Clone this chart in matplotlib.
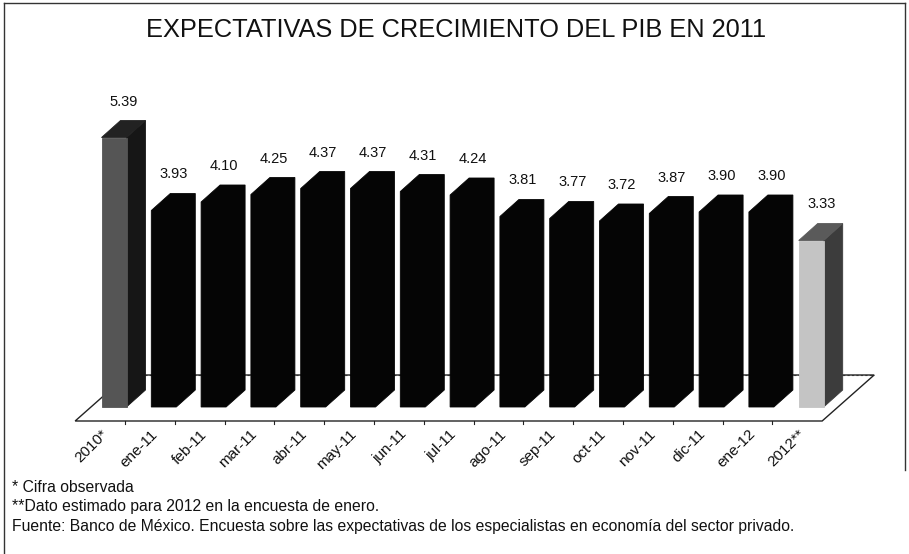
import matplotlib
matplotlib.use("Agg")
import matplotlib.pyplot as plt
from matplotlib.patches import Polygon

categories = ["2010*", "ene-11", "feb-11", "mar-11", "abr-11", "may-11", "jun-11",
              "jul-11", "ago-11", "sep-11", "oct-11", "nov-11", "dic-11", "ene-12", "2012**"]
values = [5.39, 3.93, 4.10, 4.25, 4.37, 4.37, 4.31, 4.24, 3.81, 3.77, 3.72, 3.87, 3.90, 3.90, 3.33]
labels = ["5.39", "3.93", "4.10", "4.25", "4.37", "4.37", "4.31", "4.24", "3.81", "3.77",
          "3.72", "3.87", "3.90", "3.90", "3.33"]

title = "EXPECTATIVAS DE CRECIMIENTO DEL PIB EN 2011"
notes = ["* Cifra observada",
         "**Dato estimado para 2012 en la encuesta de enero.",
         "Fuente: Banco de México. Encuesta sobre las expectativas de los especialistas en economía del sector privado."]

plt.rcParams['font.family'] = ['Liberation Sans', 'DejaVu Sans']

W, H = 909, 554
fig = plt.figure(figsize=(W / 100, H / 100), dpi=100)
fig.patch.set_facecolor("white")

# pixel mapping: px = 114 + 49.8*x ; py = 407 - 50*v
PX0, PXS = 114.0, 49.8
PY0, PYS = 407.0, 50.0
ax_l, ax_r, ax_t, ax_b = 40, 900, 85, 440
ax = fig.add_axes([ax_l / W, 1 - ax_b / H, (ax_r - ax_l) / W, (ax_b - ax_t) / H])
ax.set_xlim((ax_l - PX0) / PXS, (ax_r - PX0) / PXS)
ax.set_ylim((PY0 - ax_b) / PYS, (PY0 - ax_t) / PYS)
ax.axis("off")

# depth offsets (data units)
bdx, bdy = 19 / PXS, 17 / PYS     # bar depth
fdx, fdy = 52 / PXS, 46 / PYS     # floor depth
hw = 12.5 / PXS                    # half front width

n = len(values)
# floor
f_front = -14 / PYS
fx0 = -0.5 - 0.28
fx1 = n - 1 + 0.5 - 0.28
floor = Polygon([(fx0, f_front), (fx1, f_front), (fx1 + fdx, f_front + fdy), (fx0 + fdx, f_front + fdy)],
                closed=True, facecolor="white", edgecolor="#222222", lw=1.0, zorder=1)
ax.add_patch(floor)
ax.plot([fx0 + fdx, fx1 + fdx], [f_front + fdy] * 2, color="#333333", lw=0.8, ls=(0, (2, 2)), zorder=1.5)
for k in range(n + 1):
    xt = k - 0.5 - 0.28
    if fx0 < xt < fx1:
        ax.plot([xt, xt], [f_front, f_front - 3 / PYS], color="#222222", lw=0.8, zorder=2)

styles = {0: ("#555555", "#161616", "#222222"),
          n - 1: ("#c4c4c4", "#3c3c3c", "#5a5a5a")}

for i, v in enumerate(values):
    front, side, top = styles.get(i, ("#050505", "#050505", "#050505"))
    x0, x1 = i - hw, i + hw
    z = 3 + i * 0.01
    if i not in styles:
        # solid black bar: draw the full silhouette in one piece
        ax.add_patch(Polygon([(x0, 0), (x1, 0), (x1 + bdx, bdy), (x1 + bdx, v + bdy),
                              (x0 + bdx, v + bdy), (x0, v)],
                             closed=True, facecolor=front, edgecolor=front, lw=0.6, zorder=z))
    else:
        ax.add_patch(Polygon([(x1, 0), (x1 + bdx, bdy), (x1 + bdx, v + bdy), (x1, v)],
                             closed=True, facecolor=side, edgecolor=side, lw=0.6, zorder=z))
        ax.add_patch(Polygon([(x0, v), (x1, v), (x1 + bdx, v + bdy), (x0 + bdx, v + bdy)],
                             closed=True, facecolor=top, edgecolor=top, lw=0.6, zorder=z))
        ax.add_patch(Polygon([(x0, 0), (x1, 0), (x1, v), (x0, v)],
                             closed=True, facecolor=front, edgecolor=front, lw=0.6, zorder=z + 0.005))
    ax.text(i + 0.2, v + bdy + 19 / PYS, labels[i], ha="center", va="center", fontsize=10.5, color="#111111",
            zorder=5)
    ax.text(i - 0.27, f_front - 6 / PYS, categories[i], rotation=45, rotation_mode="anchor",
            ha="right", va="top", fontsize=11, color="#111111")

fig.text(456 / W, 1 - 30 / H, title, ha="center", va="center", fontsize=18.3, color="#111111")

ny = [487, 507, 526]
for t, y in zip(notes, ny):
    fig.text(12 / W, 1 - y / H, t, ha="left", va="center", fontsize=11.3, color="#111111")

# frame
fig.add_artist(plt.Line2D([4 / W, 4 / W], [0, 1 - 3 / H], transform=fig.transFigure, color="#333333", lw=1))
fig.add_artist(plt.Line2D([4 / W, 905 / W], [1 - 3 / H, 1 - 3 / H], transform=fig.transFigure, color="#333333", lw=1))
fig.add_artist(plt.Line2D([905 / W, 905 / W], [1 - 3 / H, 1 - 470 / H], transform=fig.transFigure, color="#333333", lw=1))

fig.savefig("out.png", dpi=100, facecolor="white")
